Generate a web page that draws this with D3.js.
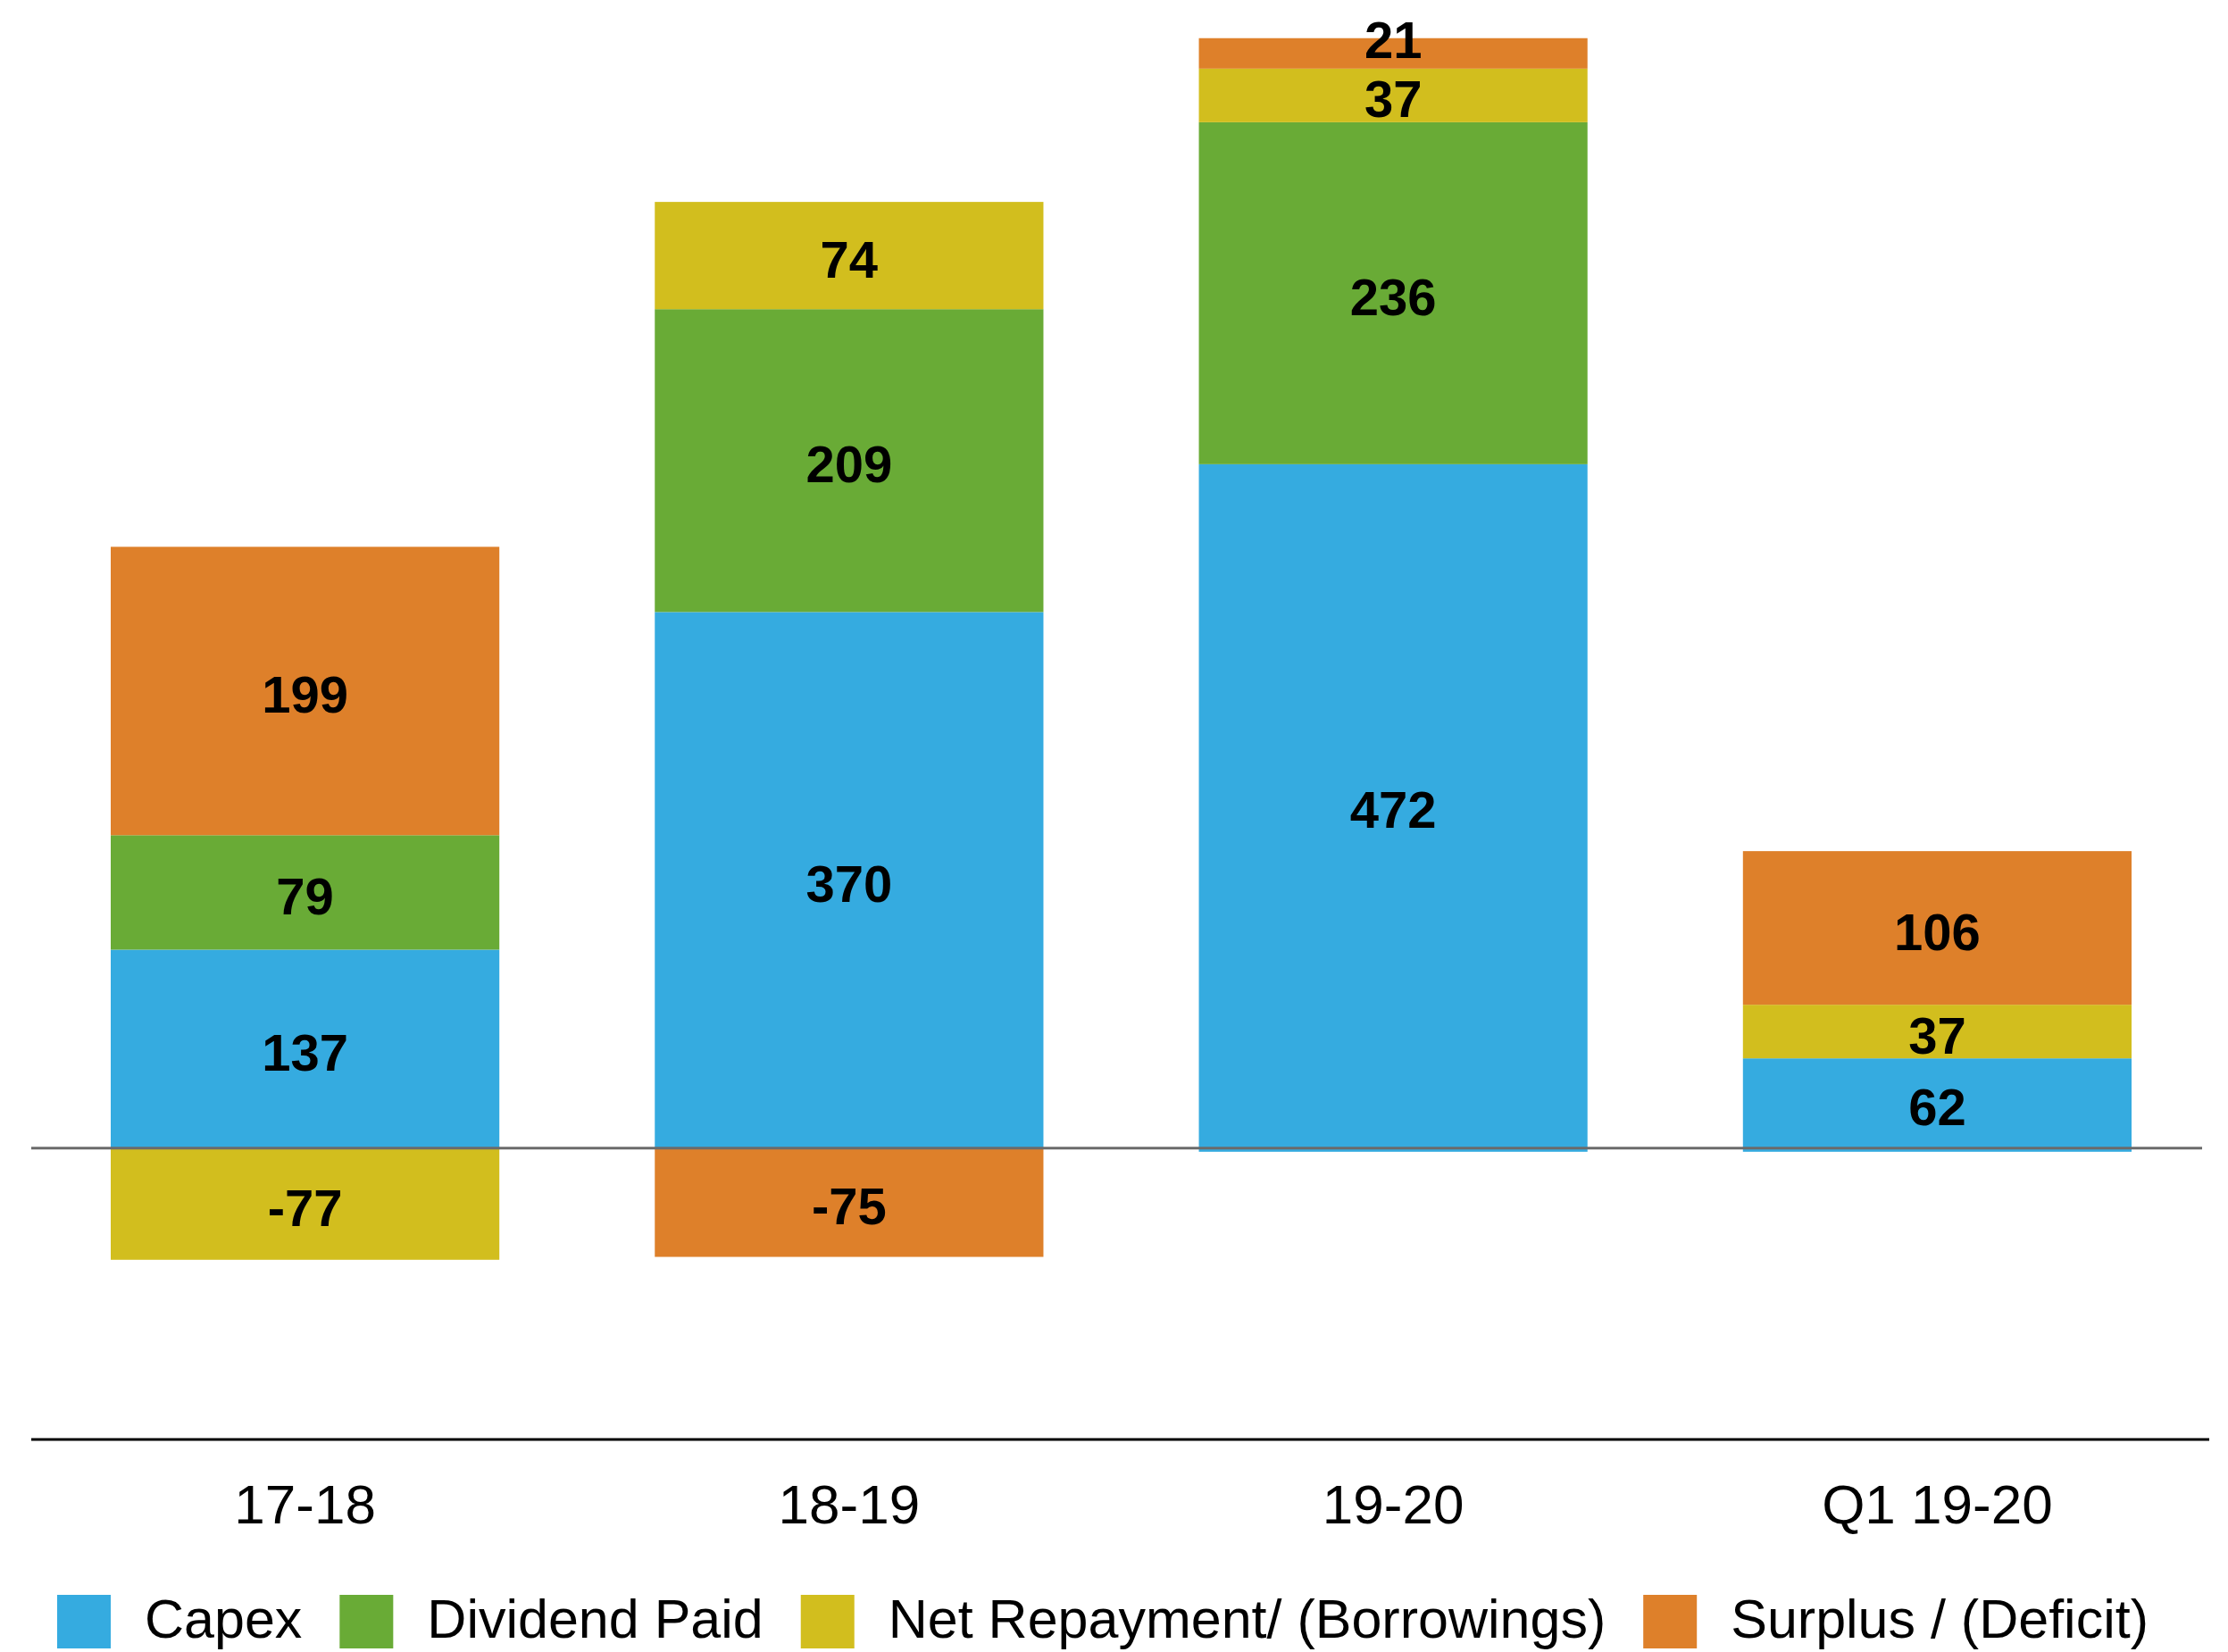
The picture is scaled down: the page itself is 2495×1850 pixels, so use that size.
<!DOCTYPE html>
<html><head><meta charset="utf-8">
<script src="https://cdn.jsdelivr.net/npm/d3@7"></script>
<style>html,body{margin:0;padding:0;background:#fff;}svg{display:block;}</style>
</head><body>
<script>
const categories = ["17-18", "18-19", "19-20", "Q1 19-20"];
const seriesNames = ["Capex", "Dividend Paid", "Net Repayment/ (Borrowings)", "Surplus / (Deficit)"];
const capex = [137, 370, 472, 62];
const dividendPaid = [79, 209, 236, null];
const netRepayment = [-77, 74, 37, 37];
const surplus = [199, -75, 21, 106];
const colors = ["#35abe0", "#69ab36", "#d2be1e", "#de802a"];

const W = 2495, H = 1850;
const svg = d3.select("body").append("svg").attr("width", W).attr("height", H);

const seriesArrays = [capex, dividendPaid, netRepayment, surplus];
const table = categories.map((c, i) => {
  const o = { cat: c };
  seriesNames.forEach((s, j) => o[s] = seriesArrays[j][i] == null ? 0 : seriesArrays[j][i]);
  return o;
});

const stack = d3.stack().keys(seriesNames).offset(d3.stackOffsetDiverging);
const stacked = stack(table);

const x = d3.scaleBand().domain(categories).range([124, 2387]).paddingInner(0.2857).paddingOuter(0);
const y = d3.scaleLinear().domain([-201, 790]).range([1612, 3.8]);

// bars
const g = svg.append("g");
stacked.forEach((layer, j) => {
  g.append("g").attr("fill", colors[j])
    .selectAll("rect").data(layer.filter(d => (d[1] - d[0]) !== 0)).enter().append("rect")
    .attr("x", d => x(d.data.cat))
    .attr("width", x.bandwidth())
    .attr("y", d => y(Math.max(d[0], d[1])))
    .attr("height", d => Math.abs(y(d[0]) - y(d[1])));
});
// small strip below zero for bars with no negative part (as in reference)
g.append("g").selectAll("rect").data(table.filter(d => d["Capex"] > 0 && d["Net Repayment/ (Borrowings)"] >= 0 && d["Surplus / (Deficit)"] >= 0)).enter().append("rect")
  .attr("x", d => x(d.cat)).attr("width", x.bandwidth())
  .attr("y", y(0)).attr("height", 4)
  .attr("fill", colors[0]);

// zero line
svg.append("line").attr("x1", 35).attr("x2", 2466).attr("y1", y(0)).attr("y2", y(0))
  .attr("stroke", "#6b6b6b").attr("stroke-width", 3);
// bottom axis line
svg.append("line").attr("x1", 35).attr("x2", 2474).attr("y1", y(-201)).attr("y2", y(-201))
  .attr("stroke", "#000").attr("stroke-width", 3);

// value labels with simple collision avoidance
const fs = 58;
const labels = [];
categories.forEach((c, i) => {
  const items = [];
  stacked.forEach((layer, j) => {
    const d = layer[i];
    const v = seriesArrays[j][i];
    if (v == null) return;
    items.push({ cat: c, v: v, cy: y((d[0] + d[1]) / 2) });
  });
  items.sort((a, b) => b.cy - a.cy);
  for (let k = 1; k < items.length; k++) {
    if (items[k - 1].cy - items[k].cy < 66) items[k].cy = items[k - 1].cy - 66;
  }
  items.forEach(it => labels.push(it));
});
svg.append("g").selectAll("text").data(labels).enter().append("text")
  .attr("x", d => x(d.cat) + x.bandwidth() / 2)
  .attr("y", d => d.cy + fs * 0.42)
  .attr("text-anchor", "middle")
  .attr("font-family", "Liberation Sans, Arial, Helvetica, sans-serif")
  .attr("font-weight", "bold").attr("font-size", fs).attr("fill", "#000")
  .text(d => d.v);

// category labels
svg.append("g").selectAll("text").data(categories).enter().append("text")
  .attr("x", d => x(d) + x.bandwidth() / 2).attr("y", 1706)
  .attr("text-anchor", "middle")
  .attr("font-family", "Liberation Sans, Arial, Helvetica, sans-serif")
  .attr("font-size", 62).attr("fill", "#000")
  .text(d => d);

// legend
const lg = svg.append("g");
let lx = 64;
seriesNames.forEach((s, j) => {
  lg.append("rect").attr("x", lx).attr("y", 1786).attr("width", 60).attr("height", 60)
    .attr("fill", colors[j]);
  const t = lg.append("text").attr("x", lx + 98).attr("y", 1834)
    .attr("font-family", "Liberation Sans, Arial, Helvetica, sans-serif")
    .attr("font-size", 61).attr("fill", "#000").text(s);
  const w = t.node().getComputedTextLength();
  lx = lx + 98 + w + 42;
});
</script>
</body></html>
